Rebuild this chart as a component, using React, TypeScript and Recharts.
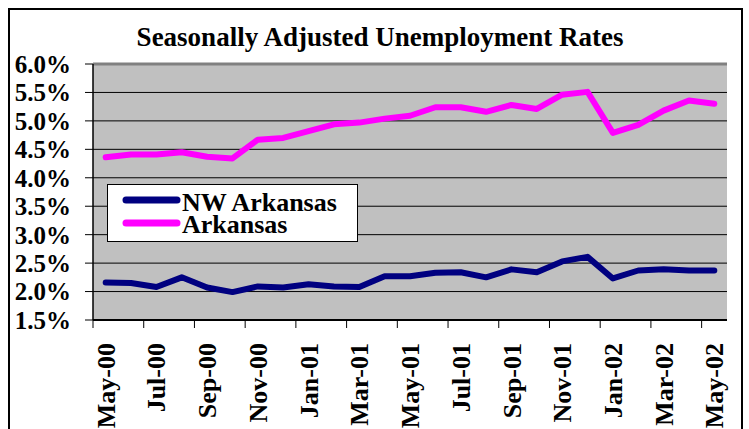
import React from "react";
import {
  LineChart,
  Line,
  XAxis,
  YAxis,
  CartesianGrid,
  Legend,
  ReferenceLine,
} from "recharts";

const months = [
  "May-00", "Jun-00", "Jul-00", "Aug-00", "Sep-00", "Oct-00", "Nov-00",
  "Dec-00", "Jan-01", "Feb-01", "Mar-01", "Apr-01", "May-01", "Jun-01",
  "Jul-01", "Aug-01", "Sep-01", "Oct-01", "Nov-01", "Dec-01", "Jan-02",
  "Feb-02", "Mar-02", "Apr-02", "May-02",
];

const nwArkansas = [
  2.16, 2.15, 2.08, 2.25, 2.07, 1.99, 2.09, 2.07, 2.13, 2.09, 2.08, 2.27,
  2.27, 2.33, 2.34, 2.25, 2.39, 2.34, 2.53, 2.61, 2.23, 2.37, 2.39, 2.37, 2.37,
];

const arkansas = [
  4.36, 4.41, 4.41, 4.45, 4.37, 4.34, 4.67, 4.7, 4.82, 4.94, 4.97, 5.04,
  5.09, 5.24, 5.24, 5.16, 5.28, 5.21, 5.46, 5.51, 4.79, 4.93, 5.18, 5.36, 5.3,
];

const seriesNames = ["NW Arkansas", "Arkansas"];

const yTicks = [1.5, 2.0, 2.5, 3.0, 3.5, 4.0, 4.5, 5.0, 5.5, 6.0];

const data = months.map((m, i) => ({
  month: m,
  nw: nwArkansas[i],
  ar: arkansas[i],
}));

const FONT = "'Liberation Serif', 'Times New Roman', serif";
const CHART_W = 749;
const CHART_H = 429;
const PLOT_LEFT = 93;
const PLOT_RIGHT = 22;
const HALF_BAND = (CHART_W - PLOT_LEFT - PLOT_RIGHT) / months.length / 2;

const MonthTick = (props: any) => {
  const { x, y, payload } = props;
  return (
    <g>
      <line x1={x - HALF_BAND} y1={y - 8} x2={x - HALF_BAND} y2={y} stroke="#000" strokeWidth={1} />
      <text
        x={x}
        y={y + 15}
        transform={`rotate(-90, ${x}, ${y + 15})`}
        textAnchor="end"
        dy="0.35em"
        fontFamily={FONT}
        fontWeight="bold"
        fontSize={26}
        fill="#000"
      >
        {payload.value}
      </text>
    </g>
  );
};

const LegendBox = (props: any) => {
  const items = [...(props.payload || [])].sort(
    (a: any, b: any) => seriesNames.indexOf(a.value) - seriesNames.indexOf(b.value)
  );
  return (
    <div
      style={{
        width: 249,
        height: 56,
        background: "#fff",
        border: "1px solid #000",
      }}
    >
      <svg width={249} height={56}>
        {items.map((entry: any, i: number) => (
          <g key={`leg-${i}`}>
            <line
              x1={18}
              x2={69}
              y1={15 + i * 23}
              y2={15 + i * 23}
              stroke={entry.color}
              strokeWidth={7}
              strokeLinecap="round"
            />
            <text
              x={74}
              y={26 + i * 22}
              fontFamily={FONT}
              fontWeight="bold"
              fontSize={26}
              fill="#000"
            >
              {entry.value}
            </text>
          </g>
        ))}
      </svg>
    </div>
  );
};

export default function App() {
  return (
    <div
      style={{
        position: "absolute",
        left: 0,
        top: 0,
        width: CHART_W,
        height: CHART_H,
        overflow: "hidden",
        background: "#fff",
      }}
    >
      <div
        style={{
          position: "absolute",
          left: 8,
          top: 8,
          width: 735,
          height: 430,
          border: "2px solid #000",
          boxSizing: "border-box",
        }}
      />
      <div
        style={{
          position: "absolute",
          left: 0,
          top: 24,
          width: 760,
          textAlign: "center",
          fontFamily: FONT,
          fontWeight: "bold",
          fontSize: 27,
          lineHeight: "27px",
        }}
      >
        Seasonally Adjusted Unemployment Rates
      </div>
      <div style={{ position: "absolute", left: 0, top: 0 }}>
        <LineChart
          width={CHART_W}
          height={CHART_H}
          data={data}
          margin={{ top: 64, right: PLOT_RIGHT, bottom: 0, left: 0 }}
        >
          <CartesianGrid
            vertical={false}
            fill="#C0C0C0"
            fillOpacity={1}
            stroke="#000"
            strokeWidth={1}
          />
          <XAxis
            dataKey="month"
            scale="band"
            interval={1}
            height={109}
            tickSize={8}
            tickMargin={0}
            tickLine={false}
            axisLine={{ stroke: "#000", strokeWidth: 2 }}
            tick={<MonthTick />}
          />
          <XAxis
            xAxisId="top"
            dataKey="month"
            orientation="top"
            height={0}
            tick={false}
            tickLine={false}
            axisLine={{ stroke: "#808080", strokeWidth: 3 }}
          />
          <YAxis
            width={PLOT_LEFT}
            domain={[1.5, 6]}
            ticks={yTicks}
            interval={0}
            tickSize={8}
            tickMargin={14}
            tickLine={{ stroke: "#000" }}
            axisLine={{ stroke: "#000", strokeWidth: 1.5 }}
            tickFormatter={(v: number) => `${v.toFixed(1)}%`}
            tick={{ fontFamily: FONT, fontWeight: "bold", fontSize: 25, fill: "#000" }}
          />
          <YAxis
            yAxisId="right"
            orientation="right"
            width={0}
            tick={false}
            tickLine={false}
            axisLine={{ stroke: "#808080", strokeWidth: 3 }}
          />
          <ReferenceLine y={6} stroke="#808080" strokeWidth={3} />
          <Legend
            layout="horizontal"
            verticalAlign="middle"
            align="center"
            wrapperStyle={{ left: 107, top: 184, width: 251, height: 58 }}
            content={<LegendBox />}
          />
          <Line
            type="linear"
            dataKey="nw"
            name={seriesNames[0]}
            stroke="#000080"
            strokeWidth={6}
            strokeLinejoin="round"
            strokeLinecap="round"
            dot={false}
            isAnimationActive={false}
          />
          <Line
            type="linear"
            dataKey="ar"
            name={seriesNames[1]}
            stroke="#FF00FF"
            strokeWidth={6}
            strokeLinejoin="round"
            strokeLinecap="round"
            dot={false}
            isAnimationActive={false}
          />
        </LineChart>
      </div>
    </div>
  );
}
